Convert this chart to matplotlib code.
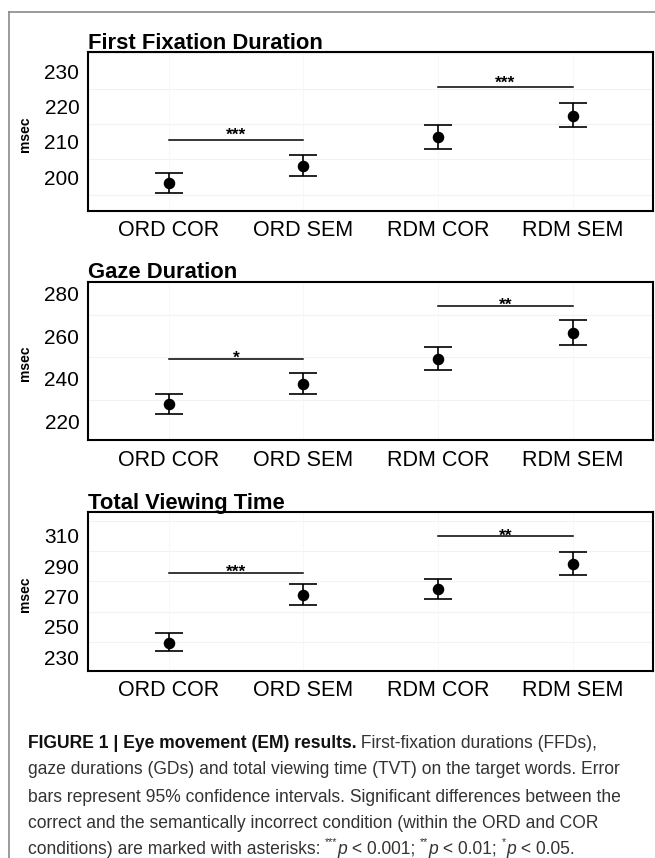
import matplotlib
matplotlib.use("Agg")
import matplotlib.pyplot as plt
from matplotlib.lines import Line2D

plt.rcParams['font.family'] = ['Liberation Sans', 'DejaVu Sans']

# ---------------- data ----------------
categories = ["ORD COR", "ORD SEM", "RDM COR", "RDM SEM"]

titles = ["First Fixation Duration", "Gaze Duration", "Total Viewing Time"]

ffd_mean = [198.4, 203.2, 211.4, 217.3]
ffd_low = [195.6, 200.45, 208.0, 214.05]
ffd_high = [201.1, 206.3, 214.6, 220.85]

gd_mean = [228.1, 237.7, 249.3, 261.4]
gd_low = [223.6, 233.1, 244.3, 256.0]
gd_high = [232.8, 242.9, 254.8, 267.5]

tvt_mean = [239.6, 271.05, 274.8, 291.7]
tvt_low = [234.3, 264.4, 268.4, 284.4]
tvt_high = [245.8, 278.5, 281.3, 299.4]

ffd_ticks = [200, 210, 220, 230]
gd_ticks = [220, 240, 260, 280]
tvt_ticks = [230, 250, 270, 290, 310]

ffd_ylim = (190.5, 235.3)
gd_ylim = (211.45, 285.4)
tvt_ylim = (221.2, 325.4)

# significance brackets: (start category, end category, y value, label)
ffd_sig = [(0, 1, 210.5, "***"), (2, 3, 225.4, "***")]
gd_sig = [(0, 1, 249.3, "*"), (2, 3, 274.1, "**")]
tvt_sig = [(0, 1, 285.5, "***"), (2, 3, 309.6, "**")]

ylabel = "msec"

caption_lines = [
    [("FIGURE 1 | Eye movement (EM) results.", "bold", "normal", False),
     (" First-fixation durations (FFDs),", "normal", "normal", False)],
    [("gaze durations (GDs) and total viewing time (TVT) on the target words. Error", "normal", "normal", False)],
    [("bars represent 95% confidence intervals. Significant differences between the", "normal", "normal", False)],
    [("correct and the semantically incorrect condition (within the ORD and COR", "normal", "normal", False)],
    [("conditions) are marked with asterisks: ", "normal", "normal", False),
     ("***", "normal", "normal", True), ("p", "normal", "italic", False),
     (" < 0.001; ", "normal", "normal", False),
     ("**", "normal", "normal", True), ("p", "normal", "italic", False),
     (" < 0.01; ", "normal", "normal", False),
     ("*", "normal", "normal", True), ("p", "normal", "italic", False),
     (" < 0.05.", "normal", "normal", False)],
]

panels = [
    (titles[0], ffd_mean, ffd_low, ffd_high, ffd_ticks, ffd_ylim, ffd_sig, 0.0),
    (titles[1], gd_mean, gd_low, gd_high, gd_ticks, gd_ylim, gd_sig, -3.0),
    (titles[2], tvt_mean, tvt_low, tvt_high, tvt_ticks, tvt_ylim, tvt_sig, -3.0),
]

# ---------------- figure ----------------
W, H = 655, 858
fig = plt.figure(figsize=(W / 100, H / 100), dpi=100)

# outer frame (grey)
fig.add_artist(Line2D([9 / W, 9 / W], [0, 1 - 11.7 / H], transform=fig.transFigure,
                      color="#8a8a8a", lw=1.2))
fig.add_artist(Line2D([9 / W, 1], [1 - 11.7 / H, 1 - 11.7 / H], transform=fig.transFigure,
                      color="#8a8a8a", lw=1.2))

box_left, box_right = 87.7, 653.3
tops = [52.3, 281.7, 512.3]
bottoms = [210.7, 440.0, 670.7]

xpos = list(range(1, len(categories) + 1))

for i, (title, mean, low, high, ticks, ylim, sig, star_off) in enumerate(panels):
    l = box_left / W
    b = 1 - bottoms[i] / H
    w = (box_right - box_left) / W
    h = (bottoms[i] - tops[i]) / H
    ax = fig.add_axes([l, b, w, h])
    ax.set_xlim(0.4, 4.6)
    ax.set_ylim(*ylim)

    # faint grid lines: minor horizontal between ticks, vertical at categories
    step = ticks[1] - ticks[0]
    minor = []
    v = ticks[0] - step / 2
    while v < ylim[1]:
        if v > ylim[0]:
            minor.append(v)
        v += step
    for m in minor:
        ax.axhline(m, color="#f2f2f2", lw=0.8, zorder=0)
    for x in xpos:
        ax.axvline(x, color="#f7f7f7", lw=0.7, zorder=0)

    yerr = [[m - lo for m, lo in zip(mean, low)], [hi - m for m, hi in zip(mean, high)]]
    ax.errorbar(xpos, mean, yerr=yerr, fmt="none", ecolor="black", elinewidth=1.2,
                capsize=10, capthick=1.2, zorder=3)
    ax.plot(xpos, mean, "o", color="black", markersize=7.3, zorder=4)

    for (s, e, yv, lab) in sig:
        ax.plot([xpos[s], xpos[e]], [yv, yv], color="black", lw=1.1, zorder=3)
        ax.annotate(lab, xy=((xpos[s] + xpos[e]) / 2, yv), xytext=(0, star_off),
                    textcoords="offset points", ha="center", va="baseline",
                    fontsize=12.5, fontweight="bold", color="black")

    ax.set_xticks(xpos)
    ax.set_xticklabels(categories, fontsize=15.5)
    ax.set_yticks(ticks)
    ax.set_yticklabels([str(t) for t in ticks], fontsize=15)
    ax.tick_params(axis="both", length=0, colors="black")
    ax.tick_params(axis="x", pad=7)
    ax.tick_params(axis="y", pad=6)
    for sp in ax.spines.values():
        sp.set_linewidth(1.5)
        sp.set_color("black")

    ax.text(0.0, 1 + 3.3 / (bottoms[i] - tops[i]), title, transform=ax.transAxes,
            ha="left", va="baseline", fontsize=15.8, fontweight="bold", color="black")

    cy = 1 - (tops[i] + bottoms[i]) / 2 / H
    fig.text(24.5 / W, cy - 0.003, ylabel, rotation=90, ha="center", va="center",
             fontsize=10, fontweight="bold")

# ---------------- caption ----------------
fig.canvas.draw()
renderer = fig.canvas.get_renderer()
cap_x0 = 27.5
line_y = [741, 768, 795, 821, 847]
cap_size = 12.65
for ly, pieces in zip(line_y, caption_lines):
    x = cap_x0
    for (txt, weight, style, sup) in pieces:
        fs = cap_size * 0.62 if sup else cap_size
        yy = ly - (5.5 if sup else 0)
        col = "#111111" if weight == "bold" else "#333333"
        t = fig.text(x / W, 1 - yy / H, txt, ha="left", va="center_baseline",
                     fontsize=fs, fontweight=weight, fontstyle=style, color=col)
        bb = t.get_window_extent(renderer=renderer)
        x += bb.width

fig.savefig("out.png", dpi=100)
